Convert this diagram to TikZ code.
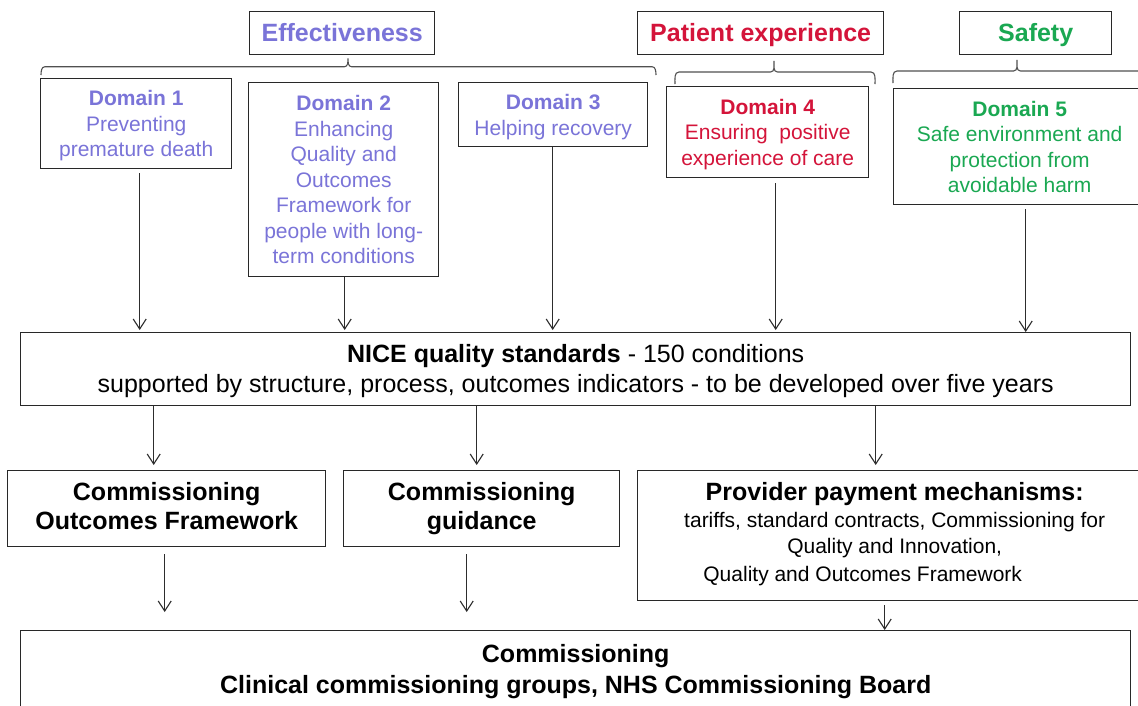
\documentclass[tikz,border=0pt]{standalone}
\usepackage{fontspec}
\setmainfont{Liberation Sans}
\usetikzlibrary{arrows.meta,calc}
\definecolor{effc}{RGB}{122,116,216}
\definecolor{patc}{RGB}{212,20,58}
\definecolor{safc}{RGB}{26,168,82}
\definecolor{edgec}{RGB}{40,40,40}
\definecolor{arrc}{RGB}{45,45,45}
\definecolor{bracecol}{RGB}{80,80,80}
\newcommand\myfdom{\fontsize{21}{25.5}\selectfont}
\newcommand\myfbig{\fontsize{25}{30}\selectfont}
\newcommand\myfsm{\fontsize{21}{26.5}\selectfont}
\newcommand\ms{\rule[-\dimexpr0.3\baselineskip-2.5pt\relax]{0pt}{\baselineskip}}
\begin{document}
\begin{tikzpicture}[x=1pt,y=-1pt,
  box/.style={draw=edgec,line width=1.4pt,inner sep=0pt,align=center,anchor=north west},
  head/.style={box,font=\myfbig\bfseries},
  dom/.style={box,font=\myfdom},
  arr/.style={draw=arrc,line width=1.1pt,-{Straight Barb[length=10pt,width=13pt]}},
  bracepath/.style={draw=bracecol,line width=1.1pt}]
\useasboundingbox (0,0) rectangle (1138,705);
\fill[white] (0,0) rectangle (1138,705);
\clip (0,0) rectangle (1138,705);

% headers
\node[head,text=effc,minimum width=185pt,minimum height=43pt] (eff) at (249,11) {Effectiveness\ms};
\node[head,text=patc,minimum width=246pt,minimum height=43pt] (pat) at (637,11) {Patient experience\ms};
\node[head,text=safc,minimum width=152pt,minimum height=43pt] (saf) at (959,11) {Safety\ms};

% braces
\path[bracepath] (41,75) to[out=90,in=180] (45,66.7) -- (344.5,66.7) to[out=0,in=-90] (348,58.5)
  to[out=-90,in=180] (351.5,66.7) -- (652,66.7) to[out=0,in=90] (656,75);
\path[bracepath] (675,84) to[out=90,in=180] (679,72) -- (770.5,72) to[out=0,in=-90] (774,61)
  to[out=-90,in=180] (777.5,72) -- (871,72) to[out=0,in=90] (875,84);
\path[bracepath] (893,83) to[out=90,in=180] (897,71) -- (1013.5,71) to[out=0,in=-90] (1017,60)
  to[out=-90,in=180] (1020.5,71) -- (1160,71);

% domains
\node[dom,text=effc,minimum width=191pt,minimum height=90pt] (d1) at (40,78)
  {\textbf{Domain 1}\ms\\Preventing\ms\\premature death\ms};
\node[dom,text=effc,minimum width=190pt,minimum height=194pt] (d2) at (248,82)
  {\textbf{Domain 2}\ms\\Enhancing\ms\\Quality and\ms\\Outcomes\ms\\Framework for\ms\\people with long-\ms\\term conditions\ms};
\node[dom,text=effc,minimum width=189pt,minimum height=64pt] (d3) at (458,82)
  {\textbf{Domain 3}\ms\\Helping recovery\ms};
\node[dom,text=patc,minimum width=202pt,minimum height=91pt] (d4) at (666,86)
  {\textbf{Domain 4}\ms\\Ensuring~ positive\ms\\experience of care\ms};
\node[dom,text=safc,minimum width=252pt,minimum height=116pt] (d5) at (893,88)
  {\textbf{Domain 5}\ms\\Safe environment and\ms\\protection from\ms\\avoidable harm\ms};

% NICE
\node[box,font=\myfbig,minimum width=1110pt,minimum height=73pt] (nice) at (20,332)
  {\textbf{NICE quality standards} - 150 conditions\ms\\supported by structure, process, outcomes indicators - to be developed over five years\ms};

% middle row
\node[box,font=\fontsize{25}{29}\selectfont\bfseries,minimum width=318pt,minimum height=76pt] (cof) at (7,470)
  {Commissioning\strut\\Outcomes Framework\strut};
\node[box,font=\fontsize{25}{29}\selectfont\bfseries,minimum width=276pt,minimum height=76pt] (cg) at (343,470)
  {Commissioning\strut\\guidance\strut};
\node[box,font=\myfsm,minimum width=514pt,minimum height=130pt] (ppm) at (637,470)
  {{\myfbig\bfseries Provider payment mechanisms:}\strut\\tariffs, standard contracts, Commissioning for\strut\\Quality and Innovation,\strut\\[1pt]Quality and Outcomes Framework\hspace*{64pt}\strut};

% bottom
\node[box,font=\fontsize{25}{31}\selectfont\bfseries,minimum width=1110pt,minimum height=82pt] (comm) at (20,630)
  {Commissioning\strut\\Clinical commissioning groups, NHS Commissioning Board\strut};

% arrows domains -> NICE
\draw[arr] ($(d1.south)+(3.5,4)$) -- ($(d1.south |- nice.north)+(3.5,-2)$);
\draw[arr] ($(d2.south)+(1,0)$) -- ($(d2.south |- nice.north)+(1,-2)$);
\draw[arr] ($(d3.south)+(-0.5,0)$) -- ($(d3.south |- nice.north)+(-0.5,-2)$);
\draw[arr] ($(d4.south)+(8,5)$) -- ($(d4.south |- nice.north)+(8,-2)$);
\draw[arr] ($(d5.south)+(6,4)$) -- ($(d5.south |- nice.north)+(6,0)$);

% arrows NICE -> middle row
\draw[arr] ($(nice.south -| cof.north)+(-13,0)$) -- ($(cof.north)+(-13,-5)$);
\draw[arr] ($(nice.south -| cg.north)+(-5,0)$) -- ($(cg.north)+(-5,-5)$);
\draw[arr] ($(nice.south -| ppm.north)+(-19,0)$) -- ($(ppm.north)+(-19,-5)$);

% arrows middle row -> commissioning
\draw[arr] ($(cof.south)+(-2,7)$) -- ($(cof.south |- comm.north)+(-2,-18)$);
\draw[arr] ($(cg.south)+(-15,7)$) -- ($(cg.south |- comm.north)+(-15,-18)$);
\draw[arr] ($(ppm.south)+(-10,4)$) -- ($(ppm.south |- comm.north)+(-10,0)$);
\end{tikzpicture}
\end{document}
